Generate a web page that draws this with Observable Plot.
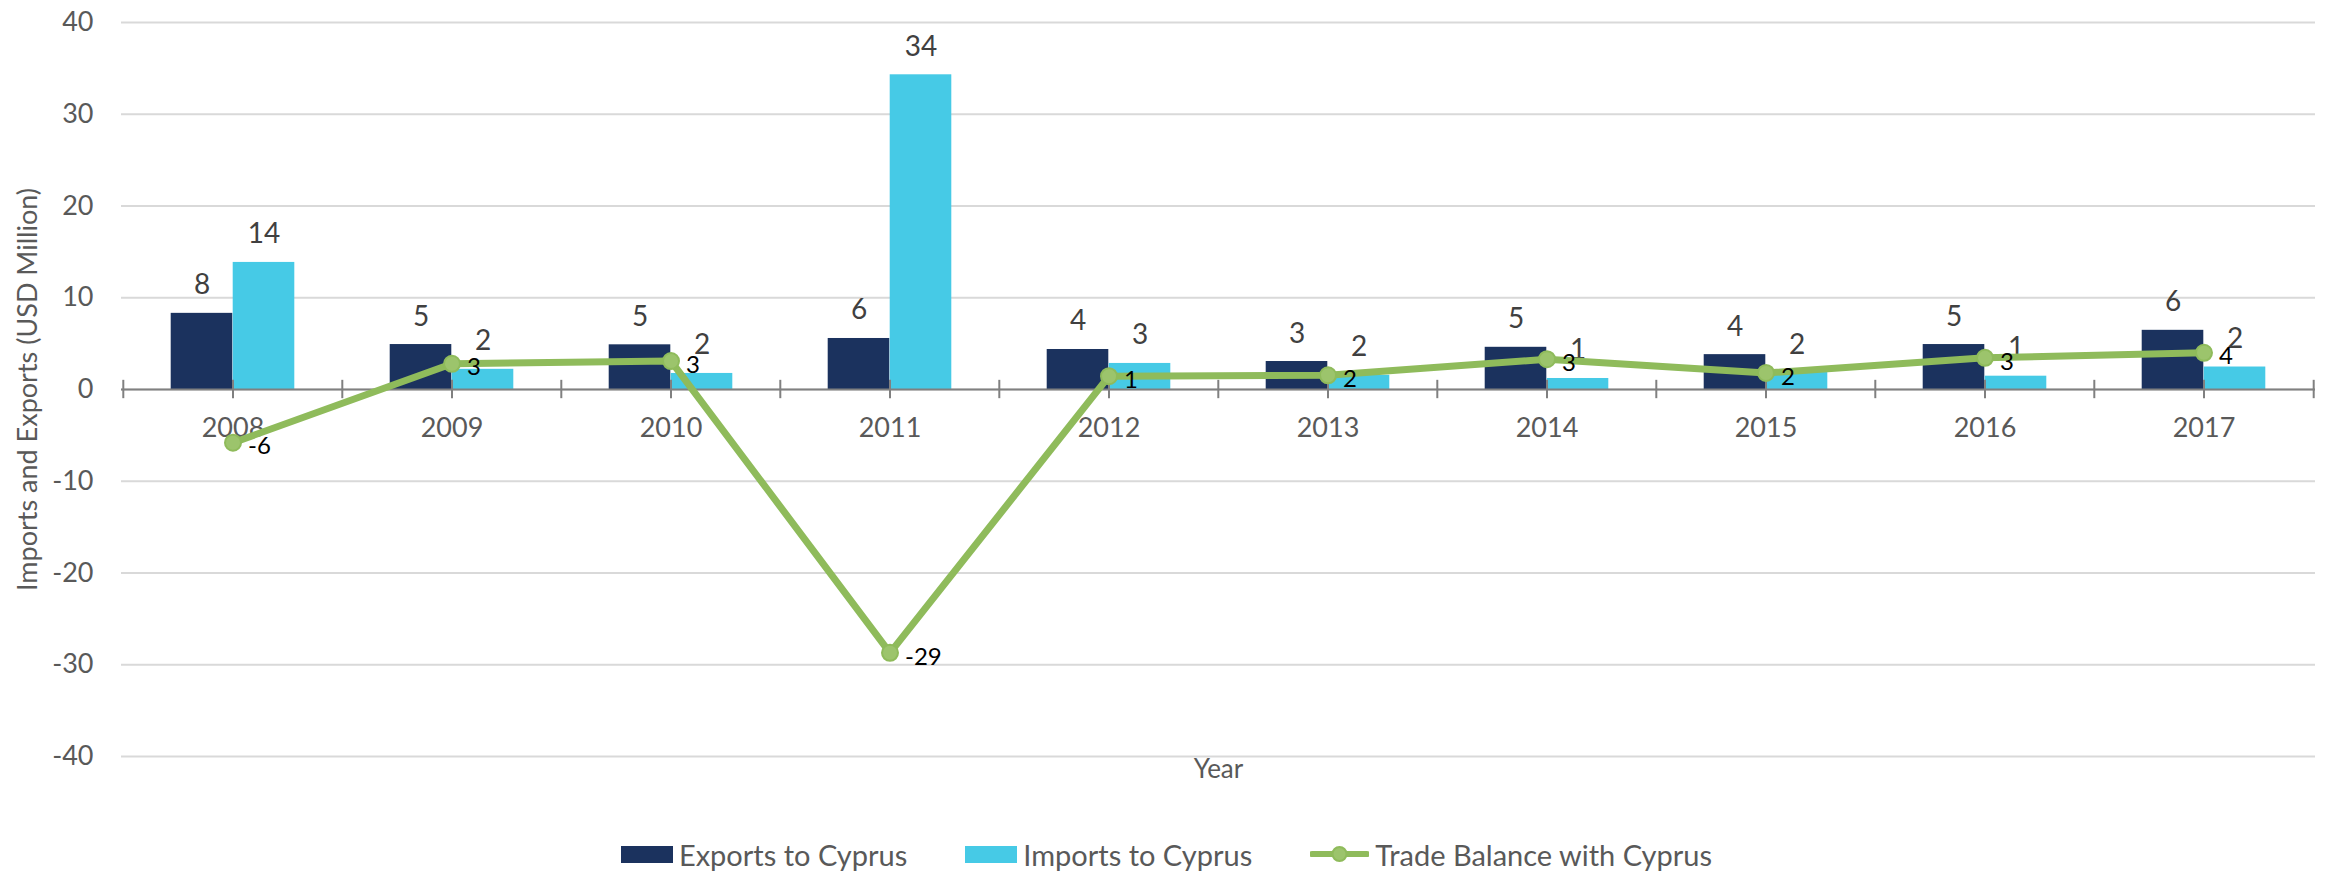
<!DOCTYPE html>
<html>
<head>
<meta charset="utf-8">
<script src="https://cdn.jsdelivr.net/npm/d3@7"></script>
<script src="https://cdn.jsdelivr.net/npm/@observablehq/plot@0.6"></script>
<style>
  html, body { margin: 0; padding: 0; background: #fff; }
  body { width: 2333px; height: 872px; overflow: hidden; font-family: Lato, "Open Sans", sans-serif; }
  #legend { height: 36px; display: flex; justify-content: center; align-items: center; gap: 58px; color: #595959; font-size: 29px; }
  .item { display: flex; align-items: center; gap: 6px; }
  .sw { width: 52px; height: 17px; display: inline-block; }
</style>
</head>
<body>
<div id="chart"></div>
<div id="legend"></div>
<script>
const years = [2008, 2009, 2010, 2011, 2012, 2013, 2014, 2015, 2016, 2017];
const exportsVals = [8.3, 4.9, 4.87, 5.56, 4.36, 3.05, 4.6, 3.8, 4.9, 6.45];
const importsVals = [13.85, 2.2, 1.75, 34.3, 2.84, 1.55, 1.2, 1.85, 1.45, 2.45];
const balanceVals = [-5.8, 2.8, 3.1, -28.7, 1.45, 1.55, 3.3, 1.8, 3.45, 4.0];
const yTicks = [-40, -30, -20, -10, 0, 10, 20, 30, 40];
const seriesNames = ["Exports to Cyprus", "Imports to Cyprus", "Trade Balance with Cyprus"];
const colors = ["#1b325e", "#46cae6", "#8fbb5b"];

const data = years.map((y, i) => ({
  year: String(y), exp: exportsVals[i], imp: importsVals[i], bal: balanceVals[i]
}));
const fmt = v => String(Math.round(v));
const half = 2194 / 10 / 2;
const barW = 62;
const font = "Lato, 'Open Sans', sans-serif";

const chart = Plot.plot({
  width: 2333,
  height: 836,
  marginLeft: 121,
  marginRight: 18,
  marginTop: 22,
  marginBottom: 80,
  style: { fontFamily: font, background: "#fff" },
  x: { type: "band", domain: years.map(String), padding: 0, axis: null },
  y: { domain: [-40, 40], axis: null },
  marks: [
    Plot.gridY(yTicks, { stroke: "#d9d9d9", strokeWidth: 2, strokeOpacity: 1 }),
    Plot.axisY(yTicks, { tickSize: 0, tickPadding: 28, fontSize: 27, fill: "#595959", label: null, tickFormat: d => String(d) }),
    Plot.text(["Imports and Exports (USD Million)"], { frameAnchor: "left", textAnchor: "middle", dx: -93, rotate: -90, fontSize: 27, fill: "#595959" }),
    Plot.text(["Year"], { frameAnchor: "bottom", textAnchor: "middle", dy: 21, fontSize: 26, fill: "#595959" }),
    Plot.barY(data, { x: "year", y: "exp", fill: colors[0], insetLeft: half - barW, insetRight: half }),
    Plot.barY(data, { x: "year", y: "imp", fill: colors[1], insetLeft: half, insetRight: half - barW }),
    Plot.ruleY([0], { stroke: "#808080", strokeWidth: 2 }),
    Plot.ruleX(data, { x: "year", y1: -1, y2: 1, stroke: "#808080", strokeWidth: 2 }),
    Plot.ruleX(data, { x: "year", y1: -1, y2: 1, dx: -half, stroke: "#808080", strokeWidth: 2 }),
    Plot.ruleX([years[years.length - 1]].map(String), { x: d => d, y1: -1, y2: 1, dx: half, stroke: "#808080", strokeWidth: 2 }),
    Plot.text(data, { x: "year", y: 0, text: "year", dy: 39, fontSize: 27, fill: "#595959" }),
    Plot.text(data, { x: "year", y: "exp", text: d => fmt(d.exp), dx: -barW / 2, dy: -19, lineAnchor: "bottom", fontSize: 28, fill: "#404040" }),
    Plot.text(data, { x: "year", y: "imp", text: d => fmt(d.imp), dx: barW / 2, dy: -19, lineAnchor: "bottom", fontSize: 28, fill: "#404040" }),
    Plot.line(data, { x: "year", y: "bal", stroke: colors[2], strokeWidth: 7, strokeLinejoin: "round" }),
    Plot.dot(data, { x: "year", y: "bal", r: 8, fill: "#9cc46c", stroke: colors[2], strokeWidth: 2 }),
    Plot.text(data, { x: "year", y: "bal", text: d => fmt(d.bal), dx: 15, dy: 4, textAnchor: "start", fontSize: 24, fill: "#000" })
  ]
});
document.getElementById("chart").appendChild(chart);

const legend = document.getElementById("legend");
seriesNames.forEach((name, i) => {
  const item = document.createElement("div");
  item.className = "item";
  if (i < 2) {
    const sw = document.createElement("span");
    sw.className = "sw";
    sw.style.background = colors[i];
    item.appendChild(sw);
  } else {
    const ns = "http://www.w3.org/2000/svg";
    const svg = document.createElementNS(ns, "svg");
    svg.setAttribute("width", 59); svg.setAttribute("height", 20);
    const ln = document.createElementNS(ns, "line");
    ln.setAttribute("x1", 2); ln.setAttribute("x2", 57); ln.setAttribute("y1", 10); ln.setAttribute("y2", 10);
    ln.setAttribute("stroke", colors[2]); ln.setAttribute("stroke-width", 6); ln.setAttribute("stroke-linecap", "round");
    const c = document.createElementNS(ns, "circle");
    c.setAttribute("cx", 29.5); c.setAttribute("cy", 10); c.setAttribute("r", 7);
    c.setAttribute("fill", "#9cc46c"); c.setAttribute("stroke", colors[2]); c.setAttribute("stroke-width", 2);
    svg.appendChild(ln); svg.appendChild(c);
    item.appendChild(svg);
  }
  const t = document.createElement("span");
  t.textContent = name;
  item.appendChild(t);
  legend.appendChild(item);
});
</script>
</body>
</html>
